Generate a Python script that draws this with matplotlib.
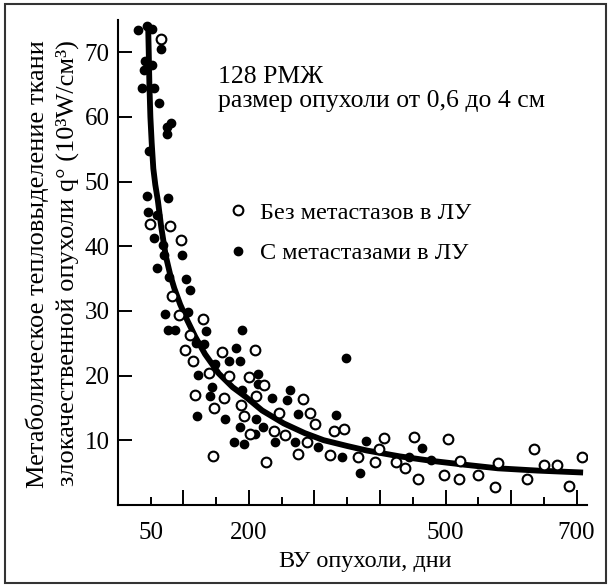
import matplotlib.pyplot as plt
from matplotlib.patches import Rectangle

plt.rcParams['font.family'] = ['Liberation Serif', 'DejaVu Serif']

# ВУ опухоли (дни) и тепловыделение
bez_x = [65, 49, 79, 95.7, 83, 92.5, 129.7, 109.5, 102, 159.2, 114.5, 138.8, 169.5,
         117, 161.6, 146.4, 188, 193, 144.9, 199.7, 223.6, 211.4, 282, 245.4, 293.7,
         301.3, 237.8, 329.4, 344.5, 201.2, 254.6, 289, 275, 324.2, 365.8, 226.7,
         209.9, 398.8, 393, 406.7, 424.3, 437.5, 452.4, 458.5, 504, 498, 521.5, 520,
         549.5, 580.3, 574.8, 623.8, 635.2, 651, 669.5, 687.8, 708]
bez_y = [72.0, 43.4, 43.2, 41.0, 32.3, 29.4, 28.7, 26.2, 24.0, 23.7, 22.2, 20.4, 20.0,
         17.0, 16.5, 15.0, 15.5, 13.7, 7.6, 19.8, 18.5, 16.9, 16.3, 14.2, 14.2,
         12.5, 11.4, 11.4, 11.8, 11.0, 10.8, 9.7, 7.85, 7.7, 7.4, 6.7,
         24.0, 8.7, 6.65, 10.4, 6.6, 5.75, 10.5, 4.0, 10.2, 4.6, 6.75, 4.0,
         4.55, 6.45, 2.8, 4.0, 8.6, 6.15, 6.15, 2.95, 7.4]

met_x = [31, 45, 52.5, 65, 41, 52.5, 40, 37, 55, 62.5, 74.3, 81.5, 75.4, 47.4, 44, 77,
         45.5, 59, 55, 68.5, 71, 97.2, 59.5, 78.5, 103.3, 109.8, 71.8, 106.5, 76.5, 87,
         133.7, 189, 118.5, 131, 179.5, 169.3, 186, 148, 122.6, 214, 144, 139.8, 121,
         163, 186, 177, 193, 213.5, 189.7, 262, 235.4, 258, 274.4, 333.3, 210, 221.6,
         209, 239, 271, 304.8, 342, 378, 370, 348.5, 463.5, 478, 443.6]
met_y = [73.4, 74.0, 73.6, 70.5, 68.7, 68.0, 67.2, 64.5, 64.5, 62.1, 58.4, 59.0, 57.3,
         54.7, 47.8, 47.4, 45.3, 44.9, 41.2, 40.2, 38.6, 38.6, 36.6, 35.3, 34.9, 33.2,
         29.5, 29.9, 27.0, 27.0, 26.9, 27.0, 25.0, 24.9, 24.2, 22.2, 22.2, 21.8, 20.1,
         20.2, 18.3, 16.9, 13.7, 13.3, 12.1, 9.75, 9.4, 18.7, 17.7, 17.7, 16.6, 16.2,
         14.0, 13.9, 13.3, 12.1, 11.0, 9.75, 9.75, 9.0, 7.4, 9.9, 5.0, 22.7, 8.75,
         6.9, 7.4]

# аппроксимирующая кривая
curve_x = [46, 47, 48, 49.5, 51.5, 54, 57, 61, 66, 73, 80, 86, 95, 106, 118, 133, 154,
           175, 195, 220, 253, 285, 314, 350, 380, 430, 479, 530, 580, 640, 710]
curve_y = [74.5, 70, 65, 60, 56, 52, 49.5, 47, 43, 38.5, 35.5, 33.5, 31, 28.5, 26, 23.3,
           20.3, 18.2, 16.7, 14.6, 12.6, 11.1, 10.0, 9.1, 8.4, 7.5, 6.8, 6.2, 5.65, 5.3,
           5.0]

x_major = [100, 200, 300, 400, 500, 600, 700]
x_minor = [50, 150, 250, 350, 450, 550, 650]
x_labels = {50: '50', 200: '200', 500: '500', 700: '700'}
y_ticks = [10, 20, 30, 40, 50, 60, 70]

fig = plt.figure(figsize=(6.08, 5.85), dpi=100)
ax = fig.add_axes([0.194, 0.137, 0.7715, 0.829])

ax.plot(curve_x, curve_y, color='black', lw=4.2, solid_capstyle='butt', zorder=3)
ax.plot(met_x, met_y, 'o', color='black', ms=6, ls='none', zorder=4,
        label='С метастазами в ЛУ')
ax.plot(bez_x, bez_y, 'o', mfc='white', mec='black', mew=1.5, ms=7, ls='none',
        zorder=5, label='Без метастазов в ЛУ')

ax.set_xlim(0, 716)
ax.set_ylim(0, 75)
ax.spines['top'].set_visible(False)
ax.spines['right'].set_visible(False)
ax.spines['left'].set_linewidth(1.5)
ax.spines['bottom'].set_linewidth(1.5)

ax.set_xticks(x_major)
ax.set_xticks(x_minor, minor=True)
ax.set_xticklabels([x_labels.get(v, '') for v in x_major])
ax.set_xticklabels([x_labels.get(v, '') for v in x_minor], minor=True)
ax.set_yticks(y_ticks)
ax.tick_params(axis='x', which='major', direction='in', length=11, width=1.4,
               labelsize=18, pad=12)
ax.tick_params(axis='x', which='minor', direction='in', length=6, width=1.4,
               labelsize=18, pad=12)
ax.tick_params(axis='y', direction='in', length=10, width=1.4, labelsize=18, pad=6)

# текст внутри графика
ax.text(0.213, 0.8695, '128 РМЖ', transform=ax.transAxes, fontsize=18.5,
        va='baseline')
ax.text(0.213, 0.8196, 'размер опухоли от 0,6 до 4 см', transform=ax.transAxes,
        fontsize=18.5, va='baseline')

h, l = ax.get_legend_handles_labels()
ax.legend(h[::-1], l[::-1], loc='upper left', bbox_to_anchor=(0.215, 0.645),
          frameon=False, fontsize=17.5, handlelength=0.8, handletextpad=0.5,
          labelspacing=0.75, borderaxespad=0)

# подписи осей
fig.text(0.061, 0.9316, 'Метаболическое тепловыделение ткани', rotation=90,
         ha='center', va='top', fontsize=19)
fig.text(0.110, 0.9316, 'злокачественной опухоли q° (10³W/cм³)', rotation=90,
         ha='center', va='top', fontsize=19)
fig.text(0.600, 0.031, 'ВУ опухоли, дни', ha='center', va='baseline', fontsize=17.5)

# рамка вокруг рисунка
fig.patches.append(Rectangle((0.008, 0.004), 0.988, 0.989, transform=fig.transFigure,
                             fill=False, edgecolor='#333333', lw=1.5))

fig.savefig('out.png', dpi=100)
